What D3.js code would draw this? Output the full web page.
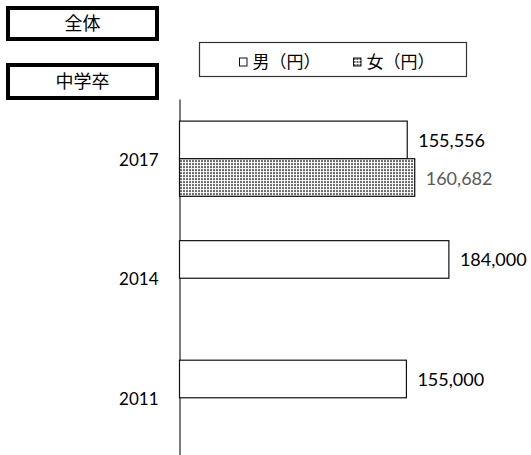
<!DOCTYPE html>
<html lang="ja">
<head>
  <meta charset="UTF-8">
  <title>中学卒 男女別</title>
  <script src="https://cdn.jsdelivr.net/npm/d3@7"></script>
  <style>
    body { margin: 0; background: #fff; }
    svg { display: block; }
  </style>
</head>
<body>
  <script>
    const years = ["2017", "2014", "2011"];
    const seriesNames = ["男（円）", "女（円）"];
    const maleValues = [155556, 184000, 155000];
    const femaleValues = [160682, null, null];
    const boxLabels = ["全体", "中学卒"];

    const w = 531, h = 455;
    const jpFont = "'Noto Sans CJK JP', sans-serif";
    const numFont = "Lato, 'Open Sans', sans-serif";

    const svg = d3.select("body").append("svg")
      .attr("width", w)
      .attr("height", h);

    // dotted fill for 女
    const pat = svg.append("defs").append("pattern")
      .attr("id", "dots")
      .attr("patternUnits", "userSpaceOnUse")
      .attr("width", 3).attr("height", 3);
    pat.append("rect").attr("width", 3).attr("height", 3).attr("fill", "#fff");
    pat.append("rect").attr("width", 2).attr("height", 2).attr("fill", "#666");

    const rows = years.map((y, i) => ({ year: y, values: [maleValues[i], femaleValues[i]] }));

    const x = d3.scaleLinear().domain([0, 200000]).range([179.5, 179.5 + 292.8]);
    const y = d3.scaleBand().domain(years).range([99, 457.5])
      .paddingInner(0.371).paddingOuter(0.185);
    const sub = d3.scaleBand().domain(seriesNames).range([0, y.bandwidth()]);

    // vertical axis line only
    svg.append("g")
      .attr("transform", "translate(179.5,0)")
      .call(d3.axisLeft(y).tickSize(0).tickPadding(21))
      .call(g => g.select(".domain").attr("stroke", "#333").attr("stroke-width", 1.3))
      .call(g => g.selectAll("text")
        .attr("font-family", numFont)
        .attr("font-size", 17)
        .attr("fill", "#000")
        .attr("dy", "0.4em"));

    const groups = svg.selectAll(".grp")
      .data(rows)
      .enter().append("g")
      .attr("class", "grp")
      .attr("transform", d => `translate(0,${y(d.year)})`);

    const cells = groups.selectAll(".bar")
      .data(d => d.values.map((v, i) => ({ name: seriesNames[i], v: v, i: i })).filter(e => e.v != null))
      .enter();

    cells.append("rect")
      .attr("class", "bar")
      .attr("x", x(0))
      .attr("y", d => sub(d.name))
      .attr("width", d => x(d.v) - x(0))
      .attr("height", sub.bandwidth())
      .attr("fill", d => d.i === 0 ? "#fff" : "url(#dots)")
      .attr("stroke", "#111")
      .attr("stroke-width", 1.2);

    cells.append("text")
      .attr("x", d => x(d.v) + 11)
      .attr("y", d => sub(d.name) + sub.bandwidth() / 2 + 7)
      .attr("font-family", numFont)
      .attr("font-size", 18)
      .attr("fill", d => d.i === 0 ? "#000" : "#595959")
      .text(d => d3.format(",")(d.v));

    // header boxes
    const boxes = svg.selectAll(".hbox")
      .data(boxLabels)
      .enter().append("g")
      .attr("class", "hbox")
      .attr("transform", (d, i) => `translate(8,${i === 0 ? 8 : 65})`);
    boxes.append("rect")
      .attr("width", 149)
      .attr("height", (d, i) => i === 0 ? 31 : 33)
      .attr("fill", "#fff")
      .attr("stroke", "#000")
      .attr("stroke-width", 4);
    boxes.append("text")
      .attr("x", 74.5)
      .attr("y", (d, i) => i === 0 ? 22 : 23)
      .attr("text-anchor", "middle")
      .attr("font-family", jpFont)
      .attr("font-size", 18)
      .text(d => d);

    // legend
    const leg = svg.append("g");
    leg.append("rect")
      .attr("x", 199.5).attr("y", 42.5)
      .attr("width", 267).attr("height", 34)
      .attr("fill", "#fff")
      .attr("stroke", "#333")
      .attr("stroke-width", 1.2);
    const legX = [239.5, 353.5];
    const items = leg.selectAll(".li")
      .data(seriesNames)
      .enter().append("g")
      .attr("transform", (d, i) => `translate(${legX[i]},58)`);
    items.append("rect")
      .attr("width", 7.5).attr("height", 8)
      .attr("fill", (d, i) => i === 0 ? "#fff" : "url(#dots)")
      .attr("stroke", "#111")
      .attr("stroke-width", 1);
    items.append("text")
      .attr("x", 13)
      .attr("y", 10)
      .attr("font-family", jpFont)
      .attr("font-size", 17)
      .text(d => d);
  </script>
</body>
</html>
